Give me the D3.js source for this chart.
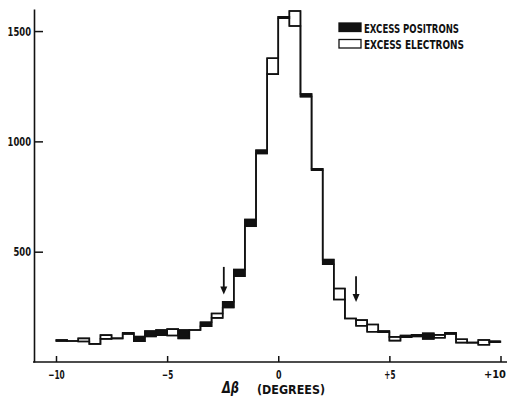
<!DOCTYPE html>
<html>
<head>
<meta charset="utf-8">
<script src="https://cdn.jsdelivr.net/npm/d3@7.9.0/dist/d3.min.js"></script>
<style>
  body { margin: 0; background: #fff; }
  svg text {
    font-family: "Liberation Sans Narrow", "DejaVu Sans Condensed", "Liberation Sans", sans-serif;
    font-weight: bold;
    fill: #111;
  }
</style>
</head>
<body>
<svg id="chart" width="508" height="400"></svg>
<script>
// bins of 0.5 degree from -10 to +10
const binWidth = 0.5;
const binStarts = d3.range(-10, 10, binWidth);

// counts, one per bin
const positrons = [100, 95, 93, 82, 105, 107, 132, 115, 140, 145,
                   120, 145, 145, 180, 200, 273, 419, 646, 960, 1305,
                   1565, 1523, 1215, 876, 464, 283, 197, 164, 137, 140,
                   97, 120, 123, 130, 110, 132, 88, 88, 78, 94];
const electrons = [95, 95, 107, 82, 122, 107, 127, 94, 116, 122,
                   149, 107, 145, 162, 220, 247, 389, 615, 945, 1377,
                   1558, 1591, 1203, 869, 443, 333, 197, 190, 170, 135,
                   114, 112, 116, 105, 123, 127, 103, 88, 100, 90];

const yTicks = [500, 1000, 1500];
const xTicks = [-10, -5, 0, 5, 10];

// arrows marking the cut, [position, from, to]
const arrows = [[-2.45, 431, 306], [3.5, 389, 272]];

const legendItems = [
  { label: "EXCESS POSITRONS", fill: "#111" },
  { label: "EXCESS ELECTRONS", fill: "#fff" }
];

const svg = d3.select("#chart");
const ink = "#111";

const x = d3.scaleLinear().domain([-10, 10]).range([56, 500.5]);
const y = d3.scaleLinear().domain([0, 1600]).range([362, 9]);

// narrow lettering like the original
function squeeze(sel, size, perChar) {
  sel.attr("font-size", size)
    .attr("fill", ink)
    .attr("textLength", function () { return this.textContent.length * perChar * size; })
    .attr("lengthAdjust", "spacingAndGlyphs");
}

// x axis
const xAxis = svg.append("g")
  .attr("transform", `translate(0,${y(0)})`)
  .call(d3.axisBottom(x)
    .tickValues(xTicks)
    .tickSize(-6)
    .tickPadding(8)
    .tickFormat(d => d > 0 ? "+" + d : d < 0 ? "\u2212" + (-d) : "0"));
xAxis.select(".domain").remove();
xAxis.selectAll("line").attr("stroke", ink).attr("stroke-width", 1.5);
xAxis.selectAll("text").call(squeeze, 12, 0.46);
// last label sits against the right edge
xAxis.selectAll(".tick").filter(d => d === 10).select("text")
  .attr("textLength", null)
  .attr("lengthAdjust", null)
  .attr("font-size", 11)
  .attr("text-anchor", "end")
  .attr("x", 5);
xAxis.append("line")
  .attr("x1", 33).attr("x2", 507)
  .attr("stroke", ink).attr("stroke-width", 1.5);

// y axis
const yAxis = svg.append("g")
  .attr("transform", "translate(34,0)")
  .call(d3.axisLeft(y)
    .tickValues(yTicks)
    .tickFormat(d3.format("d"))
    .tickSizeInner(-9)
    .tickSizeOuter(0)
    .tickPadding(3));
yAxis.select(".domain").attr("stroke", ink).attr("stroke-width", 1.6);
yAxis.selectAll("line").attr("stroke", ink).attr("stroke-width", 1.5);
yAxis.selectAll("text").call(squeeze, 13, 0.45);

// boxes between the two counts of each bin
const bins = binStarts.map((b, i) => ({ b, p: positrons[i], e: electrons[i] }));

svg.append("g").selectAll("rect")
  .data(bins.filter(d => d.p !== d.e))
  .join("rect")
  .attr("x", d => x(d.b))
  .attr("width", d => x(d.b + binWidth) - x(d.b))
  .attr("y", d => y(Math.max(d.p, d.e)))
  .attr("height", d => y(Math.min(d.p, d.e)) - y(Math.max(d.p, d.e)))
  .attr("fill", d => d.p > d.e ? ink : "#fff")
  .attr("stroke", ink)
  .attr("stroke-width", 1.4);

// step outlines of both histograms
const step = d3.line()
  .x(d => x(d[0]))
  .y(d => y(d[1]))
  .curve(d3.curveStepAfter);

[positrons, electrons].forEach(vals => {
  const pts = binStarts.map((b, i) => [b, vals[i]]);
  pts.push([10, vals[vals.length - 1]]);
  svg.append("path")
    .attr("d", step(pts))
    .attr("fill", "none")
    .attr("stroke", ink)
    .attr("stroke-width", 1.6);
});

// arrows
arrows.forEach(([pos, from, to]) => {
  const ax = x(pos), y0 = y(from), y1 = y(to);
  svg.append("line")
    .attr("x1", ax).attr("x2", ax)
    .attr("y1", y0).attr("y2", y1 - 6)
    .attr("stroke", ink).attr("stroke-width", 1.8);
  svg.append("path")
    .attr("d", `M${ax - 3.5},${y1 - 8}L${ax + 3.5},${y1 - 8}L${ax},${y1}Z`)
    .attr("fill", ink);
});

// legend
const legend = svg.append("g").attr("transform", "translate(339,23)");
legendItems.forEach((it, i) => {
  const g = legend.append("g").attr("transform", `translate(0,${i * 16.5})`);
  g.append("rect")
    .attr("width", 22).attr("height", 8.5)
    .attr("fill", it.fill)
    .attr("stroke", ink).attr("stroke-width", 1.3);
  g.append("text")
    .attr("x", 25).attr("y", 9.5)
    .attr("font-size", 13)
    .attr("textLength", i === 0 ? 95 : 100)
    .attr("lengthAdjust", "spacingAndGlyphs")
    .text(it.label);
});

// x axis title
svg.append("text")
  .attr("x", 222).attr("y", 393)
  .attr("font-size", 15)
  .attr("font-style", "italic")
  .attr("textLength", 17)
  .attr("lengthAdjust", "spacingAndGlyphs")
  .text("\u0394\u03B2");
svg.append("text")
  .attr("x", 257).attr("y", 394)
  .attr("font-size", 13)
  .attr("textLength", 68)
  .attr("lengthAdjust", "spacingAndGlyphs")
  .text("(DEGREES)");
</script>
</body>
</html>
